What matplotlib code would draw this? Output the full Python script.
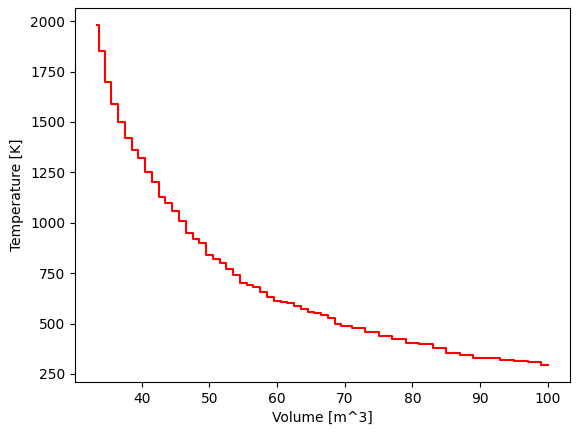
import matplotlib
matplotlib.use("Agg")
import matplotlib.pyplot as plt

volume = [33.4, 34, 35, 36, 37, 38, 39, 40, 41, 42, 43, 44, 45, 46, 47, 48, 49, 50,
          51, 52, 53, 54, 55, 56, 57, 58, 59, 60, 61, 62, 63, 64, 65, 66, 67, 68, 69,
          70, 72, 74, 76, 78, 80, 82, 84, 86, 88, 90, 92, 94, 96, 98, 100]
temperature = [1980, 1850, 1700, 1590, 1500, 1420, 1360, 1320, 1250, 1200, 1130, 1100,
               1060, 1010, 950, 920, 900, 840, 820, 800, 770, 740, 700, 690, 680, 655,
               630, 610, 605, 600, 585, 570, 555, 550, 545, 530, 500, 490, 480, 460,
               440, 425, 405, 398, 380, 355, 345, 330, 328, 320, 313, 308, 295]

fig, ax = plt.subplots(figsize=(5.8, 4.32), dpi=100)
fig.subplots_adjust(left=0.129, right=0.983, top=0.981, bottom=0.116)
ax.plot(volume, temperature, color="red", drawstyle="steps-mid")
ax.set_xlim(30.1, 103.3)
ax.set_xlabel("Volume [m^3]")
ax.set_ylabel("Temperature [K]")
fig.savefig("out.png")
